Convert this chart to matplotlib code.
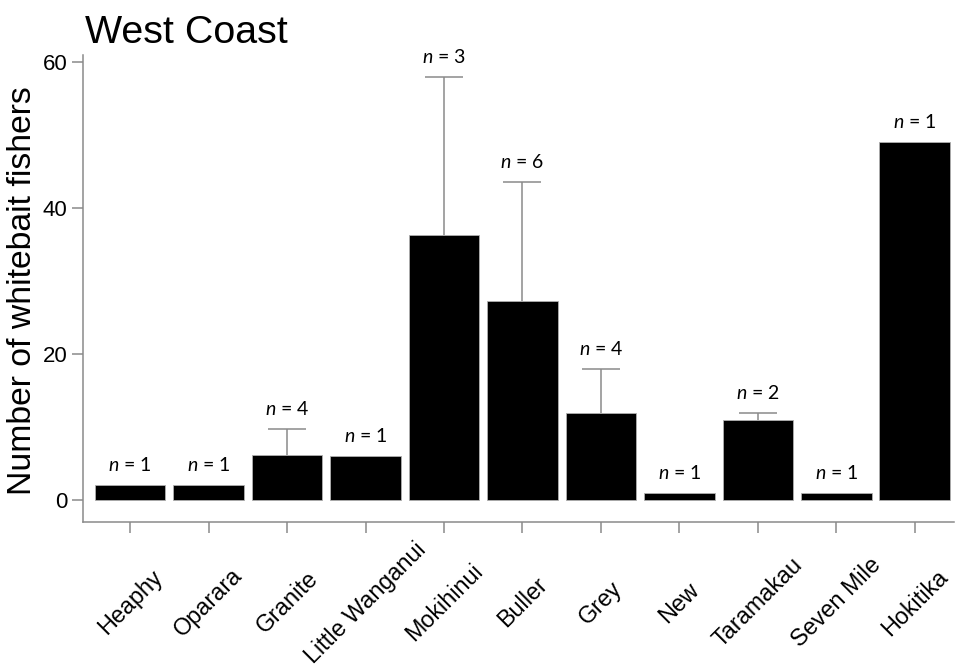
import numpy as np
import matplotlib
matplotlib.use("Agg")
import matplotlib.pyplot as plt

# values
rivers = ["Heaphy", "Oparara", "Granite", "Little Wanganui", "Mokihinui",
          "Buller", "Grey", "New", "Taramakau", "Seven Mile", "Hokitika"]
means = [2, 2, 6.2, 6, 36.3, 27.3, 11.9, 1, 10.9, 1, 49]
upper_err = [0, 0, 3.5, 0, 21.6, 16.2, 6.0, 0, 1.0, 0, 0]
n_counts = [1, 1, 4, 1, 3, 6, 4, 1, 2, 1, 1]

plt.rcParams['font.family'] = ['Liberation Sans', 'DejaVu Sans']
plt.rcParams['mathtext.fontset'] = 'custom'
plt.rcParams['mathtext.it'] = 'Lato:italic'
plt.rcParams['mathtext.rm'] = 'Lato'

grey = '#8a8a8a'

fig = plt.figure(figsize=(9.55, 6.66), dpi=100)
ax = fig.add_axes([83 / 955, 0.2162, 1 - 83 / 955 - 0.001, 0.918 - 0.2162])

x = np.arange(len(rivers))
ax.bar(x, means, width=0.9, color='black', edgecolor='#b0b0b0', linewidth=0.6, zorder=2)

# upper-only error bars
has_err = [e > 0 for e in upper_err]
xe = x[has_err]
ye = np.array(means)[has_err]
ue = np.array(upper_err)[has_err]
_, caps, _ = ax.errorbar(xe, ye, yerr=[np.zeros_like(ue), ue], fmt='none', ecolor=grey,
                         elinewidth=1.1, capsize=14, capthick=1.1, zorder=1)
caps[0].set_visible(False)

for xi, m, e, n in zip(x, means, upper_err, n_counts):
    ax.annotate(f"$n$ = {n}", (xi, m + e), xytext=(0, 8), textcoords='offset points',
                ha='center', va='bottom', fontsize=14, family='Lato')

ax.set_xlim(-0.6, 10.5)
ax.set_ylim(-3, 61)
ax.set_yticks([0, 20, 40, 60])
ax.set_xticks(x)
ax.set_xticklabels(rivers, rotation=45, ha='center', va='center')

for s in ['top', 'right']:
    ax.spines[s].set_visible(False)
for s in ['left', 'bottom']:
    ax.spines[s].set_color(grey)
    ax.spines[s].set_linewidth(1.1)

ax.tick_params(axis='both', colors=grey, length=8, width=1.1, labelcolor='black')
ax.tick_params(axis='y', labelsize=16, pad=3)
ax.tick_params(axis='x', labelsize=16.8, pad=50)

fig.text(85 / 955, (666 - 43) / 666, "West Coast", fontsize=28.4, ha='left', va='baseline')
fig.text(23 / 955, (666 - 291) / 666, "Number of whitebait fishers", fontsize=24.3,
         rotation=90, ha='center', va='center')

fig.savefig("out.png", dpi=100)
